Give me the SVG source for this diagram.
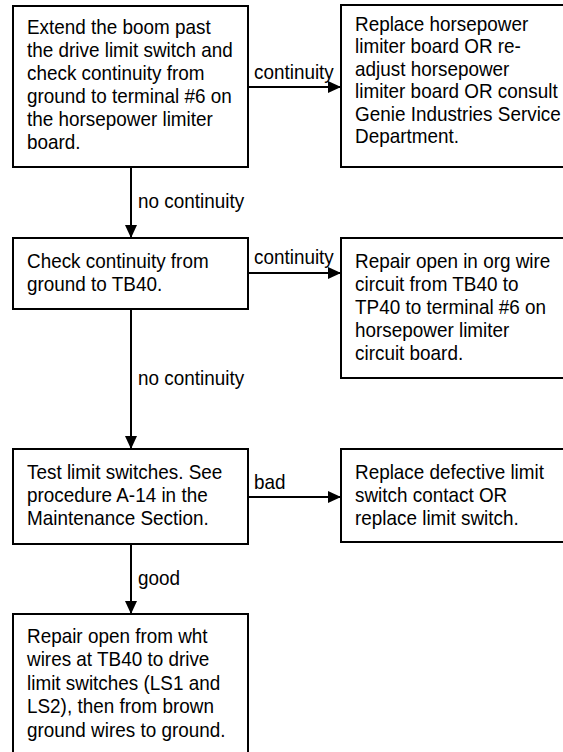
<svg xmlns="http://www.w3.org/2000/svg" width="563" height="752" viewBox="0 0 563 752">
<style>
.box{fill:#fff;stroke:#000;stroke-width:2}
.t{font-family:"Liberation Sans",Arial,sans-serif;font-size:21px;fill:#000}
.c{stroke:#000;stroke-width:2;fill:none}
</style>
<defs>
<marker id="ah" viewBox="0 0 13 12" refX="13" refY="6" markerWidth="13" markerHeight="12" markerUnits="userSpaceOnUse" orient="auto">
<path d="M0,0 L13,6 L0,12 Z" fill="#000"/>
</marker>
</defs>
<rect width="563" height="752" fill="#fff"/>
<g id="connectors">
<path class="c" d="M248,87 H341" marker-end="url(#ah)"/>
<path class="c" d="M131,167 V238" marker-end="url(#ah)"/>
<path class="c" d="M248,273 H341" marker-end="url(#ah)"/>
<path class="c" d="M131,309 V449" marker-end="url(#ah)"/>
<path class="c" d="M248,497 H341" marker-end="url(#ah)"/>
<path class="c" d="M131,544 V614" marker-end="url(#ah)"/>
<text class="t" transform="translate(254,79) scale(0.9,1)">continuity</text>
<text class="t" transform="translate(138,208) scale(0.9,1)">no continuity</text>
<text class="t" transform="translate(254,264) scale(0.9,1)">continuity</text>
<text class="t" transform="translate(138,385) scale(0.9,1)">no continuity</text>
<text class="t" transform="translate(254,489) scale(0.9,1)">bad</text>
<text class="t" transform="translate(138,585) scale(0.9,1)">good</text>
</g>
<g id="n1">
<rect class="box" x="13" y="6" width="235" height="161"/>
<text class="t" transform="translate(27,34) scale(0.9,1)"><tspan x="0" y="0">Extend the boom past</tspan><tspan x="0" y="23">the drive limit switch and</tspan><tspan x="0" y="46">check continuity from</tspan><tspan x="0" y="69">ground to terminal #6 on</tspan><tspan x="0" y="92">the horsepower limiter</tspan><tspan x="0" y="115">board.</tspan></text>
</g>
<g id="n2">
<rect class="box" x="341" y="5" width="240" height="162"/>
<text class="t" transform="translate(355,31) scale(0.9,1)"><tspan x="0" y="0">Replace horsepower</tspan><tspan x="0" y="22.5">limiter board OR re-</tspan><tspan x="0" y="45">adjust horsepower</tspan><tspan x="0" y="67.5">limiter board OR consult</tspan><tspan x="0" y="90">Genie Industries Service</tspan><tspan x="0" y="112.5">Department.</tspan></text>
</g>
<g id="n3">
<rect class="box" x="13" y="238" width="235" height="71"/>
<text class="t" transform="translate(27,268) scale(0.9,1)"><tspan x="0" y="0">Check continuity from</tspan><tspan x="0" y="23">ground to TB40.</tspan></text>
</g>
<g id="n4">
<rect class="box" x="341" y="238" width="240" height="140"/>
<text class="t" transform="translate(355,268) scale(0.9,1)"><tspan x="0" y="0">Repair open in org wire</tspan><tspan x="0" y="23">circuit from TB40 to</tspan><tspan x="0" y="46">TP40 to terminal #6 on</tspan><tspan x="0" y="69">horsepower limiter</tspan><tspan x="0" y="92">circuit board.</tspan></text>
</g>
<g id="n5">
<rect class="box" x="13" y="449" width="235" height="95"/>
<text class="t" transform="translate(27,479) scale(0.9,1)"><tspan x="0" y="0">Test limit switches. See</tspan><tspan x="0" y="23">procedure A-14 in the</tspan><tspan x="0" y="46">Maintenance Section.</tspan></text>
</g>
<g id="n6">
<rect class="box" x="341" y="449" width="240" height="93"/>
<text class="t" transform="translate(355,479) scale(0.9,1)"><tspan x="0" y="0">Replace defective limit</tspan><tspan x="0" y="23">switch contact OR</tspan><tspan x="0" y="46">replace limit switch.</tspan></text>
</g>
<g id="n7">
<rect class="box" x="13" y="614" width="235" height="150"/>
<text class="t" transform="translate(27,643) scale(0.9,1)"><tspan x="0" y="0">Repair open from wht</tspan><tspan x="0" y="23.5">wires at TB40 to drive</tspan><tspan x="0" y="47">limit switches (LS1 and</tspan><tspan x="0" y="70.5">LS2), then from brown</tspan><tspan x="0" y="94">ground wires to ground.</tspan></text>
</g>
</svg>
